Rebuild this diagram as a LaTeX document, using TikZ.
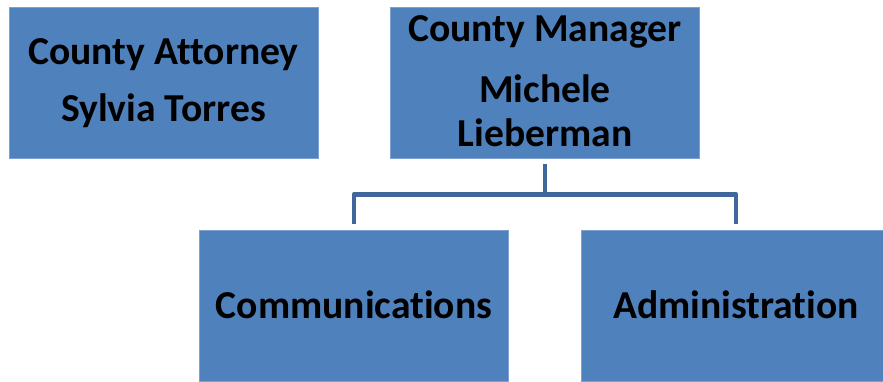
\documentclass[tikz,border=0pt]{standalone}
\usepackage{fontspec}
\setmainfont{Carlito}[Ligatures=NoCommon]
\definecolor{boxfill}{RGB}{79,129,189}
\definecolor{boxedge}{RGB}{125,160,208}
\definecolor{connblue}{RGB}{64,103,155}
\begin{document}
\begin{tikzpicture}[x=1pt,y=1pt,
  orgbox/.style={rectangle,fill=boxfill,draw=boxedge,line width=0.8pt,minimum width=309pt,minimum height=151pt,inner sep=0pt},
  orgtext/.style={anchor=base,inner sep=0pt,font=\fontsize{39.6}{44}\selectfont\bfseries},
  conn/.style={draw=connblue,line width=4.8pt,line join=round}]
\useasboundingbox (0,0) rectangle (883,382);
\node[orgbox] (att) at (163.5,299.5) {};
\node[orgbox] (mgr) at (545,299.5) {};
\node[orgbox] (comm) at (354,76.5) {};
\node[orgbox] (admin) at (736,76.5) {};
\node[orgtext] (att1) at (163.5,317.7) {County Attorney};
\node[orgtext] (att2) at (163.5,260.3) {Sylvia Torres};
\node[orgtext] (mgr1) at (545,340.3) {County Manager};
\node[orgtext] (mgr2) at (545,279.3) {Michele};
\node[orgtext] (mgr3) at (545,235.3) {Lieberman};
\node[orgtext] (commt) at (354,63.7) {Communications};
\node[orgtext] (admint) at (736,63.7) {Administration};
\coordinate (bus) at ([yshift=-36pt]mgr.south);
\draw[conn] ([yshift=-6pt]mgr.south) -- (bus);
\draw[conn] ([yshift=6pt]comm.north) |- (bus) -| ([yshift=6pt]admin.north);
\end{tikzpicture}
\end{document}
